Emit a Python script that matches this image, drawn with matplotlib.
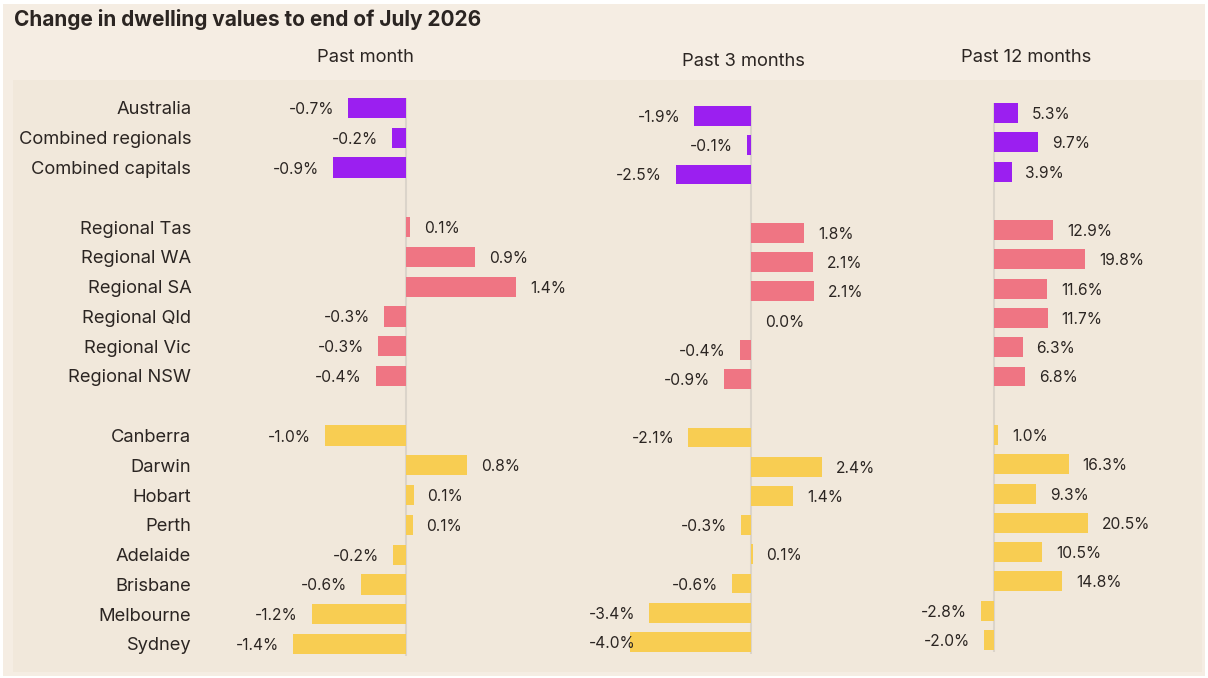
"""
Change in dwelling values to end of July 2026 - three panel bar chart.
"""
import matplotlib
matplotlib.use("Agg")
import matplotlib.pyplot as plt
from matplotlib.patches import Rectangle
from matplotlib.transforms import ScaledTranslation

plt.rcParams['font.family'] = ['Inter', 'DejaVu Sans']

W, H = 1208, 678

TITLE = "Change in dwelling values to end of July 2026"
PANEL_TITLES = ["Past month", "Past 3 months", "Past 12 months"]

regions = ["Australia", "Combined regionals", "Combined capitals",
           "Regional Tas", "Regional WA", "Regional SA", "Regional Qld",
           "Regional Vic", "Regional NSW",
           "Canberra", "Darwin", "Hobart", "Perth", "Adelaide", "Brisbane",
           "Melbourne", "Sydney"]
groups = ["national"] * 3 + ["regional"] * 6 + ["capital"] * 8

past_month = [-0.72, -0.17, -0.91,
              0.06, 0.87, 1.38, -0.27, -0.34, -0.37,
              -1.01, 0.77, 0.10, 0.09, -0.16, -0.56, -1.17, -1.41]
past_3_months = [-1.88, -0.12, -2.48,
                 1.78, 2.08, 2.11, 0.02, -0.36, -0.87,
                 -2.07, 2.38, 1.42, -0.32, 0.07, -0.62, -3.38, -4.02]
past_12_months = [5.3, 9.7, 3.9,
                  12.9, 19.8, 11.6, 11.7, 6.3, 6.8,
                  1.0, 16.3, 9.3, 20.5, 10.5, 14.8, -2.8, -2.0]

colours = {"national": "#9b1ff0", "regional": "#ef7583", "capital": "#f8cd52"}
TEXT = "#2b2522"

# row slots: one blank slot between groups
slots = []
s = 0
prev = groups[0]
for g in groups:
    if g != prev:
        s += 1
        prev = g
    slots.append(s)
    s += 1
last_slot = slots[-1]


def px_axes(fig, left, right, row_top, row_bot, zero, px_per):
    """axes placed by pixel coords; x scale in px per percent"""
    step = (row_bot - row_top) / last_slot
    top = row_top - step
    bot = row_bot + step
    ax = fig.add_axes([left / W, 1 - bot / H, (right - left) / W, (bot - top) / H])
    ax.set_xlim((left - zero) / px_per, (right - zero) / px_per)
    ax.set_ylim(last_slot + 1, -1)
    ax.set_facecolor("none")
    for sp in ax.spines.values():
        sp.set_visible(False)
    ax.set_xticks([])
    ax.set_yticks([])
    return ax


fig = plt.figure(figsize=(W / 100, H / 100), dpi=100)
fig.patch.set_facecolor("white")
fig.patches.append(Rectangle((3 / W, 1 - 676 / H), 1202 / W, 672 / H,
                             transform=fig.transFigure, facecolor="#f5ede3",
                             edgecolor="none", zorder=-2))
fig.patches.append(Rectangle((13 / W, 1 - 672 / H), 1189 / W, 592 / H,
                             transform=fig.transFigure, facecolor="#f1e8db",
                             edgecolor="none", zorder=-1))

fig.text(14 / W, 1 - 19 / H, TITLE, fontsize=15, fontweight="bold",
         color=TEXT, va="center", ha="left")

# left, right, first row y, last row y, zero x, px per %
layout = [(210, 570, 108, 644, 405.5, 80.0),
          (589, 905, 116, 642, 750.5, 30.0),
          (916, 1195, 113, 640, 993.5, 4.62)]
title_pos = [(365, 58), (743, 61), (1026, 58)]
series = [past_month, past_3_months, past_12_months]

axes = []
for (left, right, rt, rb, zero, ppx), vals in zip(layout, series):
    ax = px_axes(fig, left, right, rt, rb, zero, ppx)
    ax.barh(slots, vals, height=0.68, color=[colours[g] for g in groups],
            edgecolor="none")
    ax.vlines(0, -0.35, last_slot + 0.4, color="#dbd4ca", lw=1.5, zorder=0)
    axes.append(ax)

for (tx, ty), t in zip(title_pos, PANEL_TITLES):
    fig.text(tx / W, 1 - ty / H, t, fontsize=13.2, color=TEXT,
             ha="center", va="center")

# category labels beside the first panel
axes[0].set_yticks(slots)
axes[0].set_yticklabels(regions, fontsize=13.2, color=TEXT)
axes[0].tick_params(axis="y", length=0, pad=13.5)

# value labels
labels = []
for ax, vals in zip(axes, series):
    for y, v in zip(slots, vals):
        dx = 10 / 72 if v >= 0 else -10 / 72
        tr = ax.transData + ScaledTranslation(dx, -0.015, fig.dpi_scale_trans)
        t = ax.text(v, y, f"{v:.1f}%", transform=tr, fontsize=11.2, color=TEXT,
                    ha="left" if v >= 0 else "right", va="center")
        labels.append((ax, y, t))

fig.canvas.draw()
rend = fig.canvas.get_renderer()
for ax, y, t in labels:
    if t.get_window_extent(rend).x0 < ax.get_window_extent(rend).x0:
        t.set_transform(ax.transData + ScaledTranslation(0, -0.015, fig.dpi_scale_trans))
        t.set_position((ax.get_xlim()[0], y))
        t.set_ha("left")

fig.savefig("out.png", dpi=100, facecolor=fig.get_facecolor())
